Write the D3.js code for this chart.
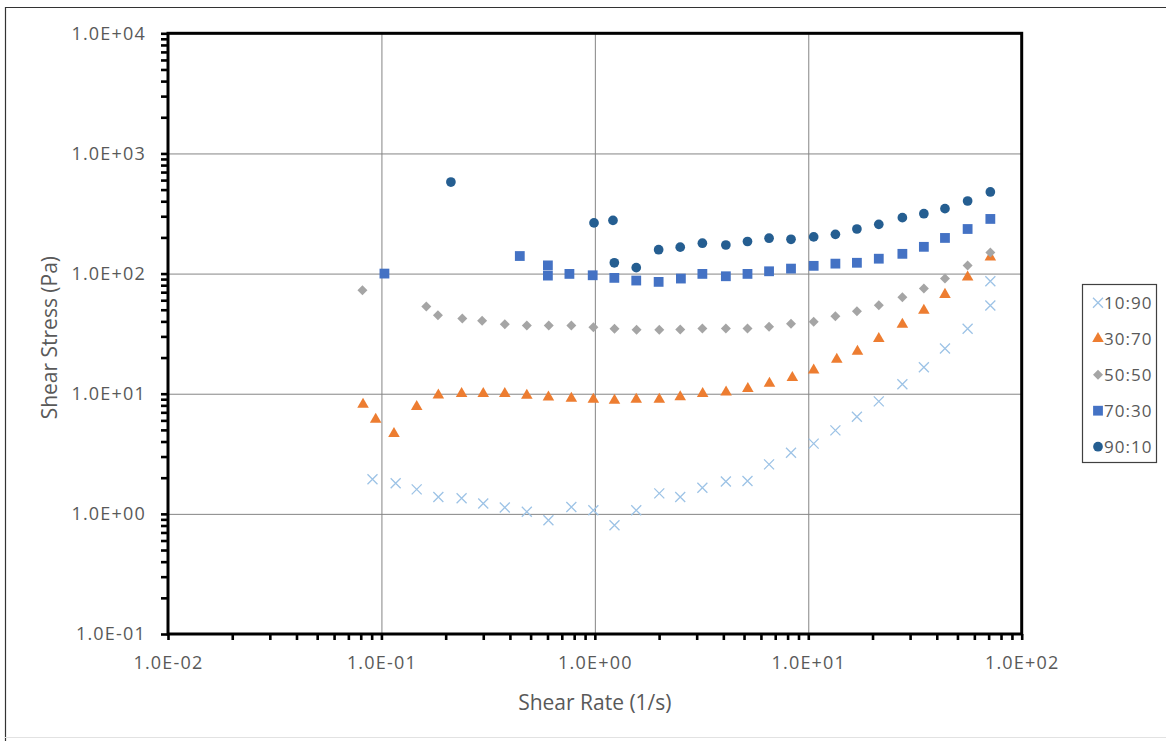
<!DOCTYPE html>
<html>
<head>
<meta charset="utf-8">
<script src="https://cdn.jsdelivr.net/npm/d3@7"></script>
<style>
  html, body { margin: 0; padding: 0; background: #fff; }
  svg { display: block; font-family: "Open Sans", "Noto Sans", sans-serif; }
</style>
</head>
<body>
<svg id="chart" width="1166" height="741"></svg>
<script>
// ---- data ----
const seriesNames = ["10:90", "30:70", "50:50", "70:30", "90:10"];

const rate_10_90   = [0.0908, 0.1166, 0.1463, 0.1848, 0.2375, 0.300, 0.3785, 0.480, 0.606, 0.776, 0.984, 1.236, 1.563, 2.004, 2.512, 3.19, 4.11, 5.19, 6.55, 8.30, 10.6, 13.4, 16.9, 21.4, 27.6, 34.8, 43.7, 55.8, 71.3, 71.3];
const stress_10_90 = [1.94, 1.80, 1.60, 1.38, 1.35, 1.22, 1.13, 1.04, 0.885, 1.14, 1.07, 0.804, 1.07, 1.48, 1.38, 1.65, 1.86, 1.88, 2.58, 3.23, 3.84, 4.95, 6.44, 8.63, 12.0, 16.6, 23.8, 34.7, 54.2, 86.3];

const rate_30_70   = [0.0820, 0.0940, 0.1145, 0.1463, 0.1848, 0.2375, 0.300, 0.3785, 0.480, 0.606, 0.776, 0.984, 1.236, 1.563, 2.004, 2.512, 3.20, 4.12, 5.21, 6.58, 8.42, 10.6, 13.6, 17.0, 21.4, 27.6, 34.8, 43.7, 55.8, 71.3];
const stress_30_70 = [8.15, 6.11, 4.65, 7.80, 9.73, 10.0, 10.0, 10.0, 9.68, 9.37, 9.14, 8.97, 8.80, 8.97, 8.97, 9.40, 10.0, 10.3, 11.0, 12.2, 13.6, 15.7, 19.3, 22.5, 28.7, 37.7, 49.3, 66.9, 93.2, 137];

const rate_50_50   = [0.0815, 0.1623, 0.184, 0.2393, 0.2964, 0.3785, 0.480, 0.608, 0.776, 0.984, 1.236, 1.568, 2.004, 2.512, 3.19, 4.11, 5.19, 6.55, 8.30, 10.6, 13.4, 16.9, 21.4, 27.6, 34.8, 43.7, 55.8, 71.3];
const stress_50_50 = [72.7, 53.2, 45.0, 42.3, 40.4, 37.9, 37.0, 37.0, 37.0, 35.8, 34.7, 34.0, 34.0, 34.2, 34.9, 34.9, 34.9, 36.1, 38.2, 39.7, 44.2, 48.6, 54.5, 63.5, 75.0, 90.9, 117, 150];

const rate_70_30   = [0.1033, 0.445, 0.6025, 0.6025, 0.760, 0.977, 1.234, 1.563, 1.99, 2.53, 3.19, 4.11, 5.19, 6.55, 8.30, 10.6, 13.4, 16.9, 21.4, 27.6, 34.8, 43.7, 55.8, 71.3];
const stress_70_30 = [100, 140, 117, 96.2, 99.4, 96.8, 92.1, 87.5, 85.3, 90.9, 99.4, 95.0, 99.4, 104.5, 110, 116, 121, 123, 133, 146, 167, 198, 235, 285];

const rate_90_10   = [0.2116, 0.991, 1.216, 1.234, 1.563, 1.99, 2.512, 3.19, 4.11, 5.19, 6.55, 8.30, 10.6, 13.4, 16.9, 21.4, 27.6, 34.8, 43.7, 55.8, 71.3];
const stress_90_10 = [578, 264, 277, 123, 112, 158, 166, 179, 173, 185, 197, 193, 202, 212, 235, 257, 292, 315, 347, 402, 478];

const xMajorTicks = [0.01, 0.1, 1, 10, 100];
const yMajorTicks = [0.1, 1, 10, 100, 1000, 10000];
const xTitle = "Shear Rate (1/s)";
const yTitle = "Shear Stress (Pa)";

// ---- layout ----
const svg = d3.select("#chart");
const L = 168, R = 1021.7, T = 33.3, B = 634;
const x = d3.scaleLog().domain([0.01, 100]).range([L, R]);
const y = d3.scaleLog().domain([0.1, 10000]).range([B, T]);

const series = [
  { name: seriesNames[0], rate: rate_10_90, stress: stress_10_90, shape: "cross",    color: "#9DC3E6" },
  { name: seriesNames[1], rate: rate_30_70, stress: stress_30_70, shape: "triangle", color: "#ED7D31" },
  { name: seriesNames[2], rate: rate_50_50, stress: stress_50_50, shape: "diamond",  color: "#A5A5A5" },
  { name: seriesNames[3], rate: rate_70_30, stress: stress_70_30, shape: "square",   color: "#4472C4" },
  { name: seriesNames[4], rate: rate_90_10, stress: stress_90_10, shape: "circle",   color: "#255E91" }
];

const fmt = v => {
  const e = Math.round(Math.log10(v));
  return "1.0E" + (e < 0 ? "-" : "+") + String(Math.abs(e)).padStart(2, "0");
};
function minorTicks(lo, hi) {
  const out = [];
  for (let d = lo; d < hi; d *= 10) for (let k = 1; k < 10; k++) out.push(d * k);
  out.push(hi);
  return out;
}
const isMajor = v => Math.abs(Math.log10(v) - Math.round(Math.log10(v))) < 1e-9;

// outer chart border
svg.append("line").attr("x1", 5.5).attr("x2", 5.5).attr("y1", 7).attr("y2", 741).attr("stroke", "#333").attr("stroke-width", 1.2);
svg.append("line").attr("x1", 5).attr("x2", 1166).attr("y1", 7.5).attr("y2", 7.5).attr("stroke", "#333").attr("stroke-width", 1.2);
svg.append("line").attr("x1", 5).attr("x2", 1166).attr("y1", 737.5).attr("y2", 737.5).attr("stroke", "#e2e2e2").attr("stroke-width", 1);

// gridlines
const gx = svg.append("g").attr("transform", `translate(0,${B})`)
  .call(d3.axisBottom(x).tickValues(xMajorTicks).tickSize(-(B - T)).tickFormat(""));
gx.select(".domain").remove();
gx.selectAll("line").attr("stroke", "#858585").attr("stroke-width", 1);
const gy = svg.append("g").attr("transform", `translate(${L},0)`)
  .call(d3.axisLeft(y).tickValues(yMajorTicks).tickSize(-(R - L)).tickFormat(""));
gy.select(".domain").remove();
gy.selectAll("line").attr("stroke", "#858585").attr("stroke-width", 1);

// axes with minor ticks
const ax = svg.append("g").attr("transform", `translate(0,${B})`)
  .call(d3.axisBottom(x).tickValues(minorTicks(0.01, 100)).tickSize(6).tickPadding(16)
    .tickFormat(d => isMajor(d) ? fmt(d) : ""));
ax.select(".domain").remove();
ax.selectAll("line").attr("stroke", "#000").attr("stroke-width", 2.6);
ax.selectAll("text").attr("fill", "#595959").attr("font-size", 18).attr("letter-spacing", 1.2)
  .attr("font-family", "'Open Sans', sans-serif").attr("dy", "0.71em");

const ay = svg.append("g").attr("transform", `translate(${L},0)`)
  .call(d3.axisLeft(y).tickValues(minorTicks(0.1, 10000)).tickSize(7).tickPadding(15)
    .tickFormat(d => isMajor(d) ? fmt(d) : ""));
ay.select(".domain").remove();
ay.selectAll("line").attr("stroke", "#000").attr("stroke-width", 2.6);
ay.selectAll("text").attr("fill", "#595959").attr("font-size", 18).attr("letter-spacing", 1.2)
  .attr("font-family", "'Open Sans', sans-serif");

// thick plot frame
svg.append("rect").attr("x", L).attr("y", T).attr("width", R - L).attr("height", B - T)
  .attr("fill", "none").attr("stroke", "#000").attr("stroke-width", 3);

// axis titles
svg.append("text").attr("x", (L + R) / 2).attr("y", 710).attr("text-anchor", "middle")
  .attr("fill", "#595959").attr("font-size", 21).text(xTitle);
svg.append("text").attr("transform", `translate(57,${(T + B) / 2 + 4}) rotate(-90)`).attr("text-anchor", "middle")
  .attr("fill", "#595959").attr("font-size", 21).text(yTitle);

// marker drawing
function drawMarker(g, shape, color) {
  if (shape === "cross") {
    g.append("path").attr("d", "M-5,-5L5,5M-5,5L5,-5").attr("stroke", color).attr("stroke-width", 1.3).attr("fill", "none");
  } else if (shape === "triangle") {
    g.append("path").attr("d", d3.symbol(d3.symbolTriangle, 58)()).attr("fill", color);
  } else if (shape === "diamond") {
    g.append("path").attr("d", d3.symbol(d3.symbolSquare, 50)()).attr("transform", "rotate(45)").attr("fill", color);
  } else if (shape === "square") {
    g.append("path").attr("d", d3.symbol(d3.symbolSquare, 96)()).attr("fill", color);
  } else {
    g.append("path").attr("d", d3.symbol(d3.symbolCircle, 74)()).attr("fill", color);
  }
}

const plot = svg.append("g");
series.forEach(s => {
  const pts = s.rate.map((r, i) => ({ r, v: s.stress[i] }));
  plot.append("g").selectAll("g").data(pts).join("g")
    .attr("transform", d => `translate(${x(d.r)},${y(d.v)})`)
    .each(function () { drawMarker(d3.select(this), s.shape, s.color); });
});

// legend
const lg = svg.append("g");
lg.append("rect").attr("x", 1082.5).attr("y", 284.5).attr("width", 74).attr("height", 178)
  .attr("fill", "#fff").attr("stroke", "#404040").attr("stroke-width", 1.2);
series.forEach((s, i) => {
  const cy = 302.7 + i * 36;
  const m = lg.append("g").attr("transform", `translate(1098,${cy})`);
  drawMarker(m, s.shape, s.color);
  lg.append("text").attr("x", 1104).attr("y", cy).attr("dy", "0.35em")
    .attr("fill", "#595959").attr("font-size", 17).attr("letter-spacing", 1).text(s.name);
});
</script>
</body>
</html>
